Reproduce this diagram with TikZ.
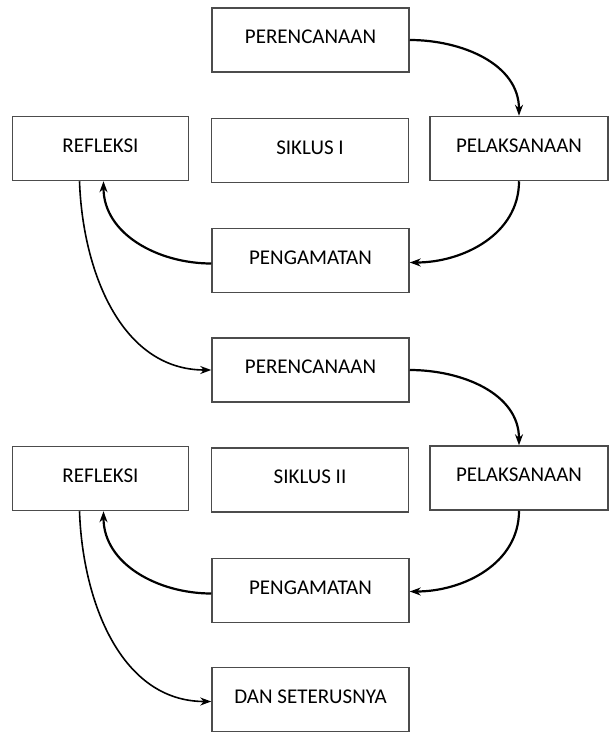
\documentclass[tikz,border=0pt]{standalone}
\usepackage{fontspec}
\setmainfont{Carlito}
\usetikzlibrary{arrows.meta}
\begin{document}
\begin{tikzpicture}[x=1pt,y=-1pt,
  box/.style={draw=black!70,line width=1.5pt,rectangle,inner sep=0pt,
    minimum height=64pt,text height=13pt,text depth=6pt,
    font=\fontsize{21}{24}\selectfont},
  wide/.style={box,minimum width=197pt},
  side/.style={box,minimum width=176pt},
  loop/.style={line width=2.2pt,-{Stealth[length=11pt,width=8pt]}},
  link/.style={line width=1.6pt,-{Stealth[length=11pt,width=8pt]}}]
\useasboundingbox (0,0) rectangle (609,733);
% cycle I
\node[wide] (P1) at (310.5,40) {PERENCANAAN};
\node[side] (R1) at (100.5,148.5) {REFLEKSI};
\node[wide] (S1) at (310,150.5) {SIKLUS I};
\node[side,minimum width=178pt] (L1) at (519,148.5) {PELAKSANAAN};
\node[wide] (G1) at (310.5,260.5) {PENGAMATAN};
% cycle II
\node[wide] (P2) at (310.5,370) {PERENCANAAN};
\node[side] (R2) at (100.5,478.5) {REFLEKSI};
\node[wide] (S2) at (310,480) {SIKLUS II};
\node[side,minimum width=178pt] (L2) at (519,478) {PELAKSANAAN};
\node[wide] (G2) at (310.5,590.5) {PENGAMATAN};
\node[wide] (D) at (310.5,699.5) {DAN SETERUSNYA};
% connectors cycle I
\draw[loop] (P1.east) to[out=0,in=90] (L1.north);
\draw[loop] (L1.south) to[out=-90,in=0] ([yshift=-2pt]G1.east);
\draw[loop] ([yshift=-3pt]G1.west) to[out=180,in=-90] ([xshift=3pt]R1.south);
\draw[link] ([xshift=-21pt]R1.south) to[out=-88,in=180] (P2.west);
% connectors cycle II
\draw[loop] (P2.east) to[out=0,in=90] (L2.north);
\draw[loop] (L2.south) to[out=-90,in=0] ([yshift=-1pt]G2.east);
\draw[loop] ([yshift=-3pt]G2.west) to[out=180,in=-90] ([xshift=3pt]R2.south);
\draw[link] ([xshift=-21pt]R2.south) to[out=-88,in=180] ([yshift=-2pt]D.west);
\end{tikzpicture}
\end{document}
